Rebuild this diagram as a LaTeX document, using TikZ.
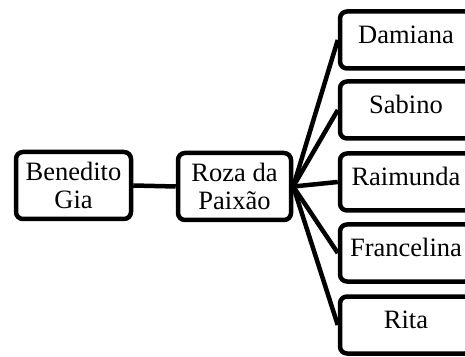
\documentclass[tikz,border=0pt]{standalone}
\usepackage{fontspec}
\setmainfont{Liberation Serif}
\begin{document}
\begin{tikzpicture}[x=1pt,y=1pt,
  box/.style={draw, line width=4.5pt, rounded corners=7pt, fill=white, font=\fontsize{26.5}{28}\selectfont, inner sep=0pt},
  lbox/.style={box, align=center, minimum width=115pt, minimum height=67pt},
  rbox/.style={box, minimum width=132pt, minimum height=57pt, text height=18pt, text depth=11pt},
  conn/.style={line width=4.5pt}]
\useasboundingbox (0,0) rectangle (465,356);
\clip (0,0) rectangle (465,356);
\node[lbox] (ben) at (73.5,170.5) {Benedito\\Gia};
\node[lbox, minimum width=113pt] (roza) at (234.5,169.5) {Roza da\\Paixão};
\node[rbox] (dam) at (406,316) {Damiana};
\node[rbox] (sab) at (406,246) {Sabino};
\node[rbox] (rai) at (406,174) {Raimunda};
\node[rbox] (fra) at (406,103) {Francelina};
\node[rbox] (rit) at (406,31) {Rita};
\draw[conn] (ben.east) -- (roza.west);
\foreach \t in {dam,sab,rai,fra,rit}
  \draw[conn] (roza.east) -- (\t.west);
\end{tikzpicture}
\end{document}
